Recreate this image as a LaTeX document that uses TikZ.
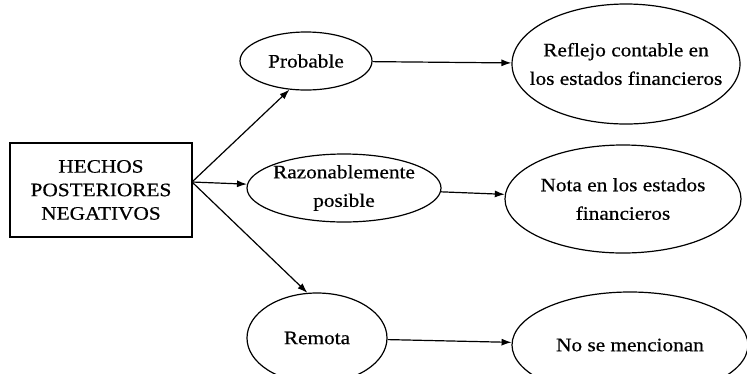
\documentclass[tikz,border=0pt]{standalone}
\usepackage{fontspec}
\setmainfont[FakeBold=0.6,FakeStretch=1.12]{Liberation Serif}
\usetikzlibrary{shapes,arrows.meta}
\tikzstyle{block} = [rectangle, draw, align=center,
minimum width=182pt, minimum height=94pt, font=\fontsize{19}{23.5}\selectfont]
\tikzstyle{event} = [ellipse, draw, align=center, inner sep=0pt, inner xsep=-20pt]
\tikzstyle{line} = [draw, -{Latex[length=10pt,width=7pt]}]

\begin{document}
\begin{tikzpicture}[x=1pt, y=-1pt, line width=1.2pt,
  font=\fontsize{19}{28.5}\selectfont]
\useasboundingbox (0,0) rectangle (747,373);
% Place nodes
\node [block] (hechos) at (101,190) {HECHOS\\POSTERIORES\\NEGATIVOS};
\coordinate (fork) at (192,182);
\node [event, minimum width=132pt, minimum height=58pt] (probable) at (306,61) {Probable};
\node [event, minimum width=194pt, minimum height=68pt] (razonable) at (344,188) {Razonablemente\\posible};
\node [event, minimum width=140pt, minimum height=90pt] (remota) at (317,338) {Remota};
\node [event, minimum width=228pt, minimum height=120pt] (reflejo) at (626,64) {Reflejo contable en\\los estados financieros};
\node [event, minimum width=236pt, minimum height=108pt] (nota) at (623,199) {Nota en los estados\\financieros};
\node [event, minimum width=236pt, minimum height=106pt] (nose) at (630,345) {No se mencionan};
% Draw edges
\path [line] (fork) -- (probable.240);
\path [line] (fork) -- (razonable);
\path [line] (fork) -- (remota.102);
\path [line] (probable) -- (reflejo);
\path [line] (razonable) -- (nota);
\path [line] (remota) -- (nose);
\end{tikzpicture}
\end{document}
